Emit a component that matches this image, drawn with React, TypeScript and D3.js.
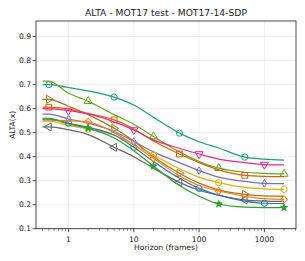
import React from 'react';
import * as d3 from 'd3';

// horizons (frames) at which ALTA was measured
const horizons = [0.4, 0.5, 1, 2, 5, 10, 20, 50, 100, 200, 500, 1000, 2000];

const tealValues = [0.70, 0.70, 0.688, 0.674, 0.648, 0.615, 0.564, 0.498, 0.462, 0.436, 0.398, 0.39, 0.386];
const limeValues = [0.715, 0.715, 0.664, 0.631, 0.575, 0.535, 0.484, 0.42, 0.38, 0.352, 0.335, 0.33, 0.328];
const brownValues = [0.639, 0.639, 0.61, 0.575, 0.518, 0.465, 0.40, 0.331, 0.29, 0.262, 0.243, 0.237, 0.236];
const rustValues = [0.606, 0.606, 0.598, 0.58, 0.553, 0.515, 0.465, 0.411, 0.375, 0.345, 0.322, 0.318, 0.317];
const pinkValues = [0.60, 0.60, 0.592, 0.578, 0.545, 0.511, 0.47, 0.435, 0.411, 0.39, 0.375, 0.367, 0.366];
const purpleValues = [0.577, 0.577, 0.557, 0.54, 0.505, 0.463, 0.42, 0.375, 0.342, 0.315, 0.297, 0.289, 0.288];
const blueValues = [0.56, 0.56, 0.539, 0.522, 0.49, 0.439, 0.38, 0.31, 0.268, 0.24, 0.215, 0.206, 0.205];
const greenValues = [0.556, 0.556, 0.536, 0.518, 0.478, 0.425, 0.361, 0.28, 0.235, 0.203, 0.19, 0.188, 0.188];
const yellowValues = [0.548, 0.548, 0.53, 0.516, 0.49, 0.45, 0.407, 0.35, 0.315, 0.292, 0.272, 0.266, 0.264];
const orangeValues = [0.552, 0.552, 0.55, 0.545, 0.50, 0.45, 0.393, 0.32, 0.28, 0.257, 0.235, 0.225, 0.222];
const grayValues = [0.524, 0.524, 0.512, 0.492, 0.439, 0.40, 0.352, 0.293, 0.26, 0.24, 0.22, 0.215, 0.214];

const marksA = [0.5, 5, 50, 500];
const marksB = [1, 10, 100, 1000];
const marksC = [2, 20, 200, 2000];

const yTicks = [0.1, 0.2, 0.3, 0.4, 0.5, 0.6, 0.7, 0.8, 0.9];
const xTicks = [1, 10, 100, 1000];

const series = [
  { color: '#1b9e77', marker: 'circle', marks: marksA, values: tealValues },
  { color: '#66a61e', marker: 'triUp', marks: marksC, values: limeValues },
  { color: '#a6761d', marker: 'triRight', marks: marksA, values: brownValues },
  { color: '#d95f02', marker: 'square', marks: marksA, values: rustValues },
  { color: '#e7298a', marker: 'triDown', marks: marksB, values: pinkValues },
  { color: '#7570b3', marker: 'thinDiamond', marks: marksB, values: purpleValues },
  { color: '#e6ab02', marker: 'hexagon', marks: marksC, values: yellowValues },
  { color: '#666666', marker: 'triLeft', marks: marksA, values: grayValues },
  { color: '#1f77b4', marker: 'circle', marks: marksB, values: blueValues },
  { color: '#ff7f0e', marker: 'diamond', marks: marksC, values: orangeValues },
  { color: '#2ca02c', marker: 'star', marks: marksC, values: greenValues },
];

const W = 305, H = 261;
const left = 36, right = 296, top = 21, bottom = 228.7;
const font = 'DejaVu Sans, sans-serif';

const x = d3.scaleLog().domain([Math.pow(10, -0.4977), Math.pow(10, 3.484)]).range([left, right]);
const y = d3.scaleLinear().domain([0.1, 0.965]).range([bottom, top]);

const hexPath = (() => {
  const r = 3.4;
  const pts = d3.range(6).map(i => {
    const a = (Math.PI / 3) * i - Math.PI / 2;
    return [r * Math.cos(a), r * Math.sin(a)];
  });
  return 'M' + pts.map(p => p.join(',')).join('L') + 'Z';
})();

function markerNode(kind: string, color: string, cx: number, cy: number, key: string) {
  const tri = d3.symbol(d3.symbolTriangle, 28)() as string;
  let d = '';
  let rot = 0;
  let fill = 'none';
  switch (kind) {
    case 'circle': d = d3.symbol(d3.symbolCircle, 30)() as string; break;
    case 'square': d = d3.symbol(d3.symbolSquare, 34)() as string; break;
    case 'triUp': d = tri; break;
    case 'triDown': d = tri; rot = 180; break;
    case 'triRight': d = tri; rot = 90; break;
    case 'triLeft': d = tri; rot = -90; break;
    case 'diamond': d = d3.symbol(d3.symbolSquare, 24)() as string; rot = 45; break;
    case 'thinDiamond': d = 'M0,-3.8L2.3,0L0,3.8L-2.3,0Z'; break;
    case 'hexagon': d = hexPath; break;
    case 'star': d = d3.symbol(d3.symbolStar, 15)() as string; fill = color; break;
  }
  return (
    <path key={key} d={d} transform={`translate(${cx},${cy}) rotate(${rot})`}
      fill={fill} stroke={color} strokeWidth={1} />
  );
}

export default function App() {
  const line = d3.line<number>()
    .x((_, i) => x(horizons[i]))
    .y(v => y(v))
    .curve(d3.curveMonotoneX);

  const minor: number[] = [];
  [0.1, 1, 10, 100, 1000].forEach(dec => {
    for (let k = 2; k <= 9; k++) {
      const v = dec * k;
      if (x(v) > left && x(v) < right) minor.push(v);
    }
  });

  return (
    <svg width={W} height={H} style={{ position: 'absolute', left: 0, top: 0, background: '#fff' }}
      fontFamily={font}>
      {/* grid */}
      {yTicks.map(t => (
        <line key={'gy' + t} x1={left} x2={right} y1={y(t)} y2={y(t)} stroke="#ebebeb" strokeWidth={0.8} />
      ))}
      {xTicks.map(t => (
        <line key={'gx' + t} x1={x(t)} x2={x(t)} y1={top} y2={bottom} stroke="#ebebeb" strokeWidth={0.8} />
      ))}

      {/* series */}
      {series.map((s, si) => (
        <g key={'s' + si}>
          <path d={line(s.values) as string} fill="none" stroke={s.color} strokeWidth={1.2} />
          {s.marks.map(m => {
            const i = horizons.indexOf(m);
            return markerNode(s.marker, s.color, x(m), y(s.values[i]), 'm' + si + '-' + m);
          })}
        </g>
      ))}

      {/* frame */}
      <rect x={left} y={top} width={right - left} height={bottom - top} fill="none" stroke="#222" strokeWidth={0.8} />

      {/* y axis */}
      {yTicks.map(t => (
        <g key={'yt' + t}>
          <line x1={left - 3.5} x2={left} y1={y(t)} y2={y(t)} stroke="#222" strokeWidth={0.8} />
          <text x={left - 5} y={y(t)} dy="0.35em" textAnchor="end" fontSize={7.6} fill="#222">{t.toFixed(1)}</text>
        </g>
      ))}

      {/* x axis */}
      {xTicks.map(t => (
        <g key={'xt' + t}>
          <line x1={x(t)} x2={x(t)} y1={bottom} y2={bottom + 3.5} stroke="#222" strokeWidth={0.8} />
          <text x={x(t)} y={241.5} textAnchor="middle" fontSize={7.6} fill="#222">{t}</text>
        </g>
      ))}
      {minor.map(t => (
        <line key={'mt' + t} x1={x(t)} x2={x(t)} y1={bottom} y2={bottom + 2} stroke="#222" strokeWidth={0.6} />
      ))}

      <text x={(left + right) / 2} y={16} textAnchor="middle" fontSize={9.2} fill="#222">
        ALTA - MOT17 test - MOT17-14-SDP
      </text>
      <text x={(left + right) / 2} y={250} textAnchor="middle" fontSize={7.6} fill="#222">Horizon (frames)</text>
      <text transform={`translate(14.5,${(top + bottom) / 2}) rotate(-90)`} textAnchor="middle" fontSize={7.6} fill="#222">
        ALTA(x)
      </text>
    </svg>
  );
}
